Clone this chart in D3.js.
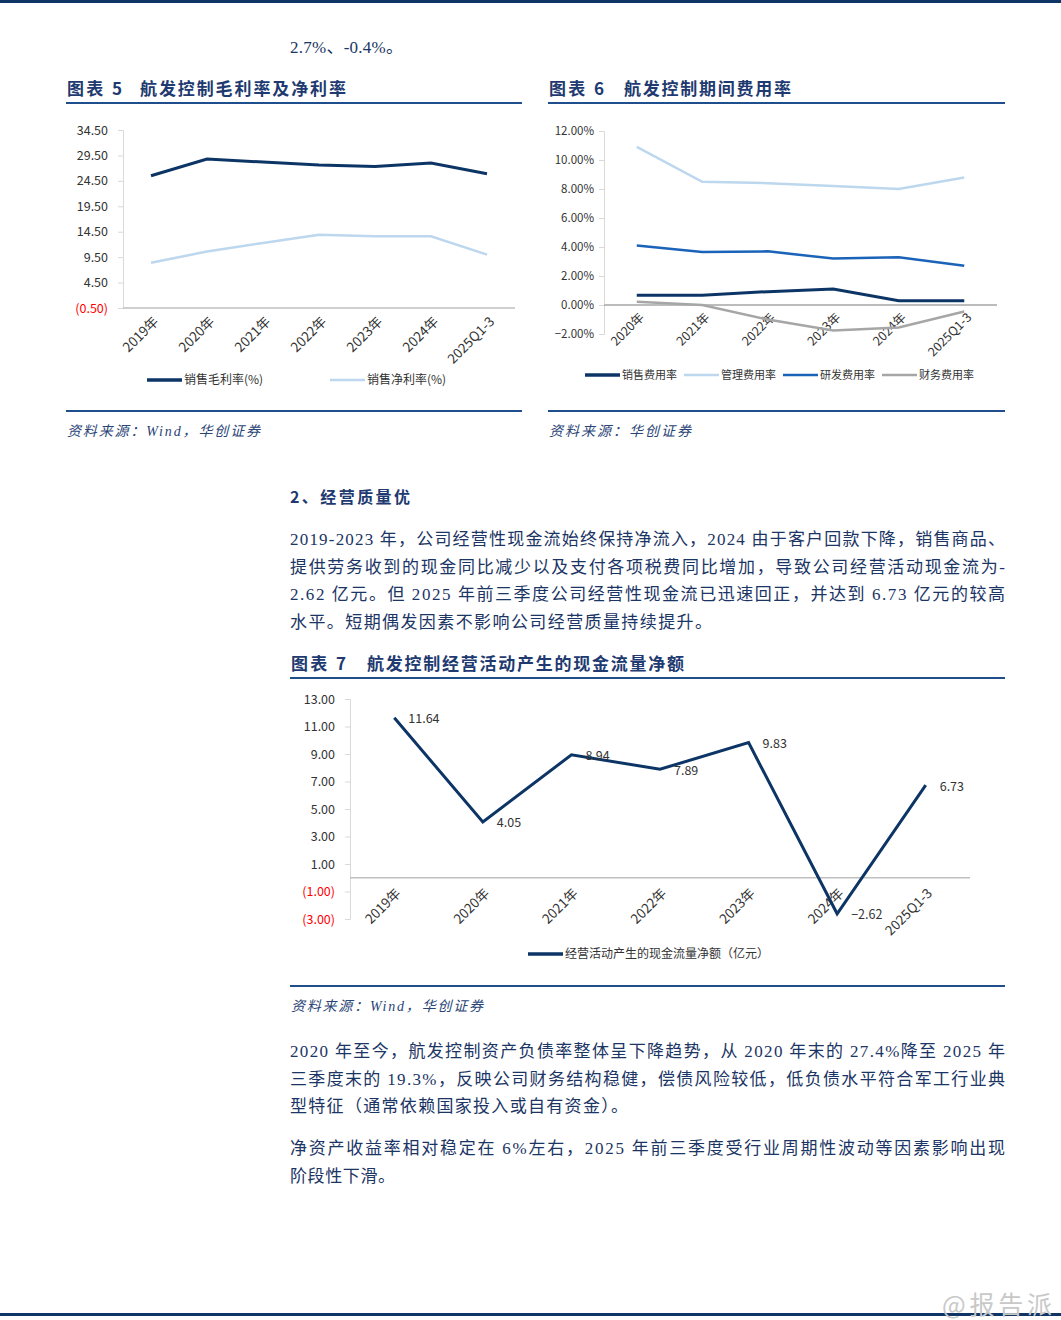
<!DOCTYPE html>
<html>
<head>
<meta charset="utf-8">
<script src="https://cdn.jsdelivr.net/npm/d3@7"></script>
<style>
  body { margin: 0; background: #fff; }
  svg { display: block; }
</style>
</head>
<body>
<svg id="page"></svg>
<script>
// chart 5 data
const years5 = ['2019年', '2020年', '2021年', '2022年', '2023年', '2024年', '2025Q1-3'];
const grossMargin = [25.5, 28.8, 28.2, 27.6, 27.3, 28.0, 25.9];
const netMargin = [8.4, 10.6, 12.3, 13.9, 13.6, 13.6, 10.0];
const ticks5 = [34.5, 29.5, 24.5, 19.5, 14.5, 9.5, 4.5, -0.5];

// chart 6 data
const years6 = ['2020年', '2021年', '2022年', '2023年', '2024年', '2025Q1-3'];
const salesExp = [0.67, 0.67, 0.92, 1.1, 0.3, 0.3];
const adminExp = [10.9, 8.5, 8.4, 8.2, 8.0, 8.8];
const rdExp = [4.1, 3.65, 3.7, 3.2, 3.3, 2.7];
const finExp = [0.23, 0.0, -1.0, -1.75, -1.55, -0.45];
const ticks6 = [12, 10, 8, 6, 4, 2, 0, -2];

// chart 7 data
const years7 = ['2019年', '2020年', '2021年', '2022年', '2023年', '2024年', '2025Q1-3'];
const cashFlow = [11.64, 4.05, 8.94, 7.89, 9.83, -2.62, 6.73];
const ticks7 = [13, 11, 9, 7, 5, 3, 1, -1, -3];

const NAVY = '#0f3566';
const RULE = '#1f4e8c';
const TITLE = '#1e3a70';
const BODY = '#1b3565';
const SANS = '"Noto Sans CJK SC", "Noto Sans", sans-serif';
const SERIF = '"Liberation Serif", "Noto Sans CJK SC", serif';

const svg = d3.select('#page').attr('width', 1061).attr('height', 1320);

// page rules
svg.append('rect').attr('x', 0).attr('y', 0).attr('width', 1061).attr('height', 3).attr('fill', NAVY);
svg.append('rect').attr('x', 0).attr('y', 1313).attr('width', 1061).attr('height', 3).attr('fill', NAVY);

const fmtNum = d => d < 0 ? '(' + d3.format('.2f')(-d) + ')' : d3.format('.2f')(d);
const fmtPct = d => d3.format('.2f')(d) + '%';

// one line of body text, stretched to a width
const textLine = (x, y, str, width, opts = {}) => {
    const t = svg.append('text')
        .attr('x', x).attr('y', y)
        .attr('font-family', opts.family || SERIF)
        .attr('font-size', opts.size || 17)
        .attr('font-weight', opts.weight || 'normal')
        .attr('font-style', opts.style || 'normal')
        .attr('fill', opts.color || BODY)
        .text(str);
    if (width) t.attr('textLength', width).attr('lengthAdjust', 'spacing');
    return t;
};

// chart title + rules + source
const frame = (x0, x1, titleY, ruleY, num, title, titleX, titleW, bottomY, source, sourceW) => {
    textLine(x0 + 1, titleY, '图表 ' + num, 55, { family: SANS, weight: 'bold', size: 17, color: TITLE });
    textLine(titleX, titleY, title, titleW, { family: SANS, weight: 'bold', size: 17, color: TITLE });
    svg.append('line').attr('x1', x0).attr('x2', x1).attr('y1', ruleY).attr('y2', ruleY)
        .attr('stroke', RULE).attr('stroke-width', 2);
    svg.append('line').attr('x1', x0).attr('x2', x1).attr('y1', bottomY).attr('y2', bottomY)
        .attr('stroke', RULE).attr('stroke-width', 2);
    textLine(x0 + 1, bottomY + 25, source, sourceW, { family: SERIF, style: 'italic', size: 14, color: '#2a4476' });
};

// generic line chart
const lineChart = (cfg) => {
    const g = svg.append('g');
    const x = d3.scalePoint().domain(cfg.cats).range([cfg.left, cfg.right]).padding(0.5);
    const y = d3.scaleLinear().domain(cfg.domain).range([cfg.bottom, cfg.top]);

    // y axis
    const yAxis = g.append('g')
        .attr('transform', `translate(${cfg.left},0)`)
        .call(d3.axisLeft(y).tickValues(cfg.ticks).tickFormat(cfg.fmt).tickSize(5).tickPadding(cfg.pad));
    yAxis.select('.domain').attr('stroke', '#d9d9d9');
    yAxis.selectAll('.tick line').attr('stroke', '#d9d9d9');
    yAxis.selectAll('.tick text')
        .attr('font-family', SANS).attr('font-size', cfg.fs)
        .attr('fill', d => d < 0 && cfg.redNeg ? '#ff0000' : '#333');

    // zero / category axis
    g.append('line')
        .attr('x1', cfg.left).attr('x2', cfg.right)
        .attr('y1', y(cfg.base)).attr('y2', y(cfg.base))
        .attr('stroke', cfg.baseColor).attr('stroke-width', 1.3);

    // category labels
    g.selectAll('.cat')
        .data(cfg.cats)
        .join('text')
        .attr('class', 'cat')
        .attr('transform', d => `translate(${x(d) + cfg.labelShift},${y(cfg.base) + cfg.labelDrop}) rotate(-45)`)
        .attr('text-anchor', 'end')
        .attr('dy', '0.35em')
        .attr('font-family', SANS).attr('font-size', cfg.xfs)
        .attr('fill', '#333')
        .text(d => d);

    const line = d3.line().x((d, i) => x(cfg.cats[i])).y(d => y(d));
    cfg.series.forEach(s => {
        g.append('path')
            .datum(s.values)
            .attr('d', line)
            .attr('fill', 'none')
            .attr('stroke', s.color)
            .attr('stroke-width', s.width)
            .attr('stroke-linejoin', 'miter');
    });
    return { x, y, g };
};

// legend item
const legendItem = (x, y, color, width, label, fs) => {
    svg.append('line').attr('x1', x).attr('x2', x + 35).attr('y1', y).attr('y2', y)
        .attr('stroke', color).attr('stroke-width', width);
    svg.append('text').attr('x', x + 37).attr('y', y).attr('dy', '0.35em')
        .attr('font-family', SANS).attr('font-size', fs).attr('fill', '#333').text(label);
};

// ---- top text
textLine(290, 53, '2.7%、-0.4%。', 113, { size: 17 });

// ---- chart 5
frame(66, 522, 95, 103, 5, '航发控制毛利率及净利率', 140, 206, 411, '资料来源：Wind，华创证券', 193);
lineChart({
    cats: years5, left: 123, right: 515, top: 130, bottom: 308,
    domain: [-0.5, 34.5], ticks: ticks5, fmt: fmtNum, fs: 12.5, xfs: 13.5, pad: 10, redNeg: true,
    base: -0.5, baseColor: '#bfbfbf', labelDrop: 11, labelShift: 5,
    series: [
        { values: grossMargin, color: '#0c3566', width: 3 },
        { values: netMargin, color: '#bdd7ee', width: 2.5 }
    ]
});
legendItem(147, 380, '#0c3566', 3.5, '销售毛利率(%)', 12);
legendItem(330, 380, '#bdd7ee', 2.5, '销售净利率(%)', 12);

// ---- chart 6
frame(548, 1005, 95, 103, 6, '航发控制期间费用率', 624, 167, 411, '资料来源：华创证券', 142);
lineChart({
    cats: years6, left: 604, right: 997, top: 131, bottom: 334,
    domain: [-2, 12], ticks: ticks6, fmt: fmtPct, fs: 11.5, xfs: 12.5, pad: 5, redNeg: false,
    base: 0, baseColor: '#a6a6a6', labelDrop: 10, labelShift: 5,
    series: [
        { values: adminExp, color: '#bdd7ee', width: 2.5 },
        { values: rdExp, color: '#1a63b8', width: 2.5 },
        { values: finExp, color: '#a6a6a6', width: 2.5 },
        { values: salesExp, color: '#0c3566', width: 3 }
    ]
});
legendItem(585, 375, '#0c3566', 3.5, '销售费用率', 11);
legendItem(684, 375, '#bdd7ee', 2.5, '管理费用率', 11);
legendItem(783, 375, '#1a63b8', 2.5, '研发费用率', 11);
legendItem(882, 375, '#a6a6a6', 2.5, '财务费用率', 11);

// ---- section text
textLine(290, 503, '2、经营质量优', 120, { family: SANS, weight: 'bold', size: 16, color: TITLE });
const para1 = [
    ['2019-2023 年，公司经营性现金流始终保持净流入，2024 由于客户回款下降，销售商品、', 715],
    ['提供劳务收到的现金同比减少以及支付各项税费同比增加，导致公司经营活动现金流为-', 715],
    ['2.62 亿元。但 2025 年前三季度公司经营性现金流已迅速回正，并达到 6.73 亿元的较高', 715],
    ['水平。短期偶发因素不影响公司经营质量持续提升。', 422]
];
para1.forEach((l, i) => textLine(290, 545 + i * 27.7, l[0], l[1]));

// ---- chart 7
frame(290, 1005, 670, 678, 7, '航发控制经营活动产生的现金流量净额', 367, 317, 986, '资料来源：Wind，华创证券', 192);
const c7 = lineChart({
    cats: years7, left: 350, right: 970, top: 699, bottom: 919,
    domain: [-3, 13], ticks: ticks7, fmt: fmtNum, fs: 12.5, xfs: 13.5, pad: 10, redNeg: true,
    base: 0, baseColor: '#bfbfbf', labelDrop: 13, labelShift: 4,
    series: [{ values: cashFlow, color: '#0c3566', width: 3 }]
});
c7.g.selectAll('.val')
    .data(cashFlow)
    .join('text')
    .attr('class', 'val')
    .attr('x', (d, i) => c7.x(years7[i]) + 14)
    .attr('y', d => c7.y(d) + 1)
    .attr('dy', '0.35em')
    .attr('font-family', SANS).attr('font-size', 12.5).attr('fill', '#333')
    .text(d => d3.format('.2f')(d));
legendItem(528, 954, '#0c3566', 3.5, '经营活动产生的现金流量净额（亿元）', 12);

// ---- bottom text
const para2 = [
    ['2020 年至今，航发控制资产负债率整体呈下降趋势，从 2020 年末的 27.4%降至 2025 年', 715],
    ['三季度末的 19.3%，反映公司财务结构稳健，偿债风险较低，低负债水平符合军工行业典', 715],
    ['型特征（通常依赖国家投入或自有资金）。', 338]
];
para2.forEach((l, i) => textLine(290, 1057 + i * 27.5, l[0], l[1]));
const para3 = [
    ['净资产收益率相对稳定在 6%左右，2025 年前三季度受行业周期性波动等因素影响出现', 715],
    ['阶段性下滑。', 105]
];
para3.forEach((l, i) => textLine(290, 1154 + i * 27.5, l[0], l[1]));

// watermark
textLine(942, 1314, '@报告派', 110, { family: SANS, size: 25, color: '#c8c8c8' });
</script>
</body>
</html>
